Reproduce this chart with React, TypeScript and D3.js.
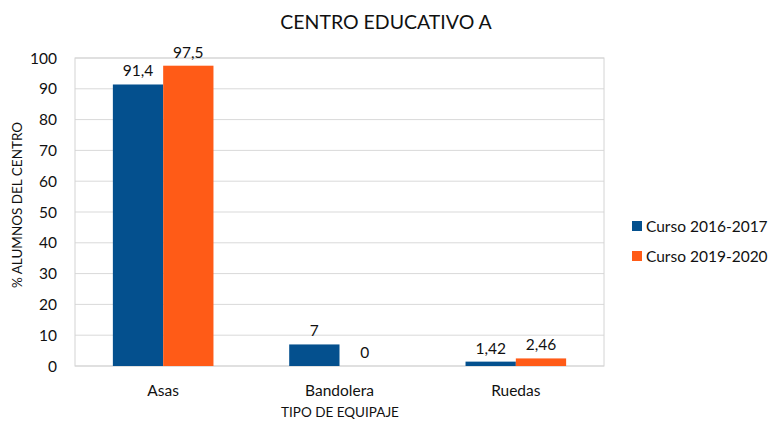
import React from "react";
import * as d3 from "d3";

const categories = ["Asas", "Bandolera", "Ruedas"];
const seriesNames = ["Curso 2016-2017", "Curso 2019-2020"];
const values2016 = [91.4, 7, 1.42];
const values2019 = [97.5, 0, 2.46];
const labels2016 = ["91,4", "7", "1,42"];
const labels2019 = ["97,5", "0", "2,46"];
const yTicks = [0, 10, 20, 30, 40, 50, 60, 70, 80, 90, 100];
const colors = ["#04508e", "#ff5b17"];

const W = 770, H = 421;
const FONT = "Lato, sans-serif";

export default function App() {
  const left = 75, right = 604, top = 58, bottom = 366;
  const x = d3.scaleBand<string>().domain(categories).range([left, right]).paddingInner(0).paddingOuter(0);
  const y = d3.scaleLinear().domain([0, 100]).range([bottom, top]);
  const barW = 50.3;
  const series = [values2016, values2019];
  const labels = [labels2016, labels2019];
  return (
    <svg width={W} height={H} style={{ position: "absolute", left: 0, top: 0, background: "#fff" }} fontFamily={FONT}>
      <rect x={0} y={0} width={W} height={H} fill="#fff" />
      <text x={386} y={29} textAnchor="middle" fontSize={19.5} fill="#111">CENTRO EDUCATIVO A</text>
      {yTicks.map((t) => (
        <g key={t}>
          <line x1={left} x2={right} y1={y(t)} y2={y(t)} stroke="#d9d9d9" strokeWidth={1} />
          <text x={57} y={y(t) + 5.5} textAnchor="end" fontSize={15.5} fill="#111">{t}</text>
        </g>
      ))}
      <rect x={left} y={top} width={right - left} height={bottom - top} fill="none" stroke="#d4d4d4" strokeWidth={1} />
      {categories.map((c, i) => {
        const cx = (x(c) as number) + x.bandwidth() / 2;
        return (
          <g key={c}>
            {series.map((s, j) => {
              const bx = cx - barW + j * barW;
              return (
                <g key={j}>
                  <rect x={bx} y={y(s[i])} width={barW} height={bottom - y(s[i])} fill={colors[j]} />
                  <text x={bx + barW / 2} y={y(s[i]) - 8} textAnchor="middle" fontSize={15.5} fill="#111">{labels[j][i]}</text>
                </g>
              );
            })}
            <text x={cx} y={396} textAnchor="middle" fontSize={15.5} fill="#111">{c}</text>
          </g>
        );
      })}
      <text x={340} y={417} textAnchor="middle" fontSize={13.5} fill="#111">TIPO DE EQUIPAJE</text>
      <text transform={`translate(22,205) rotate(-90)`} textAnchor="middle" fontSize={13.5} fill="#111">% ALUMNOS DEL CENTRO</text>
      {seriesNames.map((n, j) => (
        <g key={n}>
          <rect x={632} y={221 + j * 30} width={10} height={10} fill={colors[j]} />
          <text x={646} y={232 + j * 30} fontSize={15.5} fill="#111">{n}</text>
        </g>
      ))}
    </svg>
  );
}
